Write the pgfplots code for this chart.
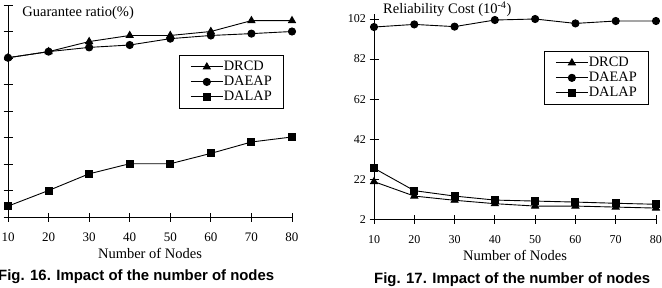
\documentclass[border=0pt]{standalone}
\usepackage{pgfplots}
\pgfplotsset{compat=1.18}
\usepackage{fontspec}
\setmainfont{Liberation Serif}
\newfontfamily\capfont{Liberation Sans}

\pgfplotsset{
  figstyle/.style={
    scale only axis,
    axis lines=left,
    axis line style={-, line width=0.9pt},
    tick align=center,
    major tick length=9pt,
    every tick/.style={black, line width=0.9pt},
    xmin=10, xmax=80,
    xtick={10,20,...,80},
    /pgf/number format/assume math mode=true,
    xlabel={Number of Nodes},
    xlabel style={font=\fontsize{14.5}{16}\selectfont, yshift=0pt},
    clip=false,
    every axis plot/.append style={black, line width=0.9pt, mark options={solid, fill=black}},
    legend cell align=left,
    legend style={draw=black, line width=0.8pt, font=\fontsize{14.4}{15}\selectfont,
      row sep=1pt, inner xsep=11pt, inner ysep=4.5pt,
      nodes={inner sep=0.5pt, text height=10pt, text depth=3pt},
      /tikz/every even column/.append style={column sep=0pt}},
    legend image code/.code={
      \draw[mark repeat=2, mark phase=2] plot coordinates {(0pt,0pt) (16pt,0pt) (32pt,0pt)};
    },
  },
}

\begin{document}
\begin{tikzpicture}
\useasboundingbox (0pt,0pt) rectangle (662pt,287pt);

% Guarantee ratio
\begin{axis}[figstyle,
  at={(8pt,70pt)}, anchor=origin,
  width=284pt, height=212pt,
  ymin=0, ymax=8, ytick={0,1,...,8}, yticklabels={},
  xticklabel style={font=\fontsize{13}{14}\selectfont, yshift=-8pt},
  legend style={at={(0.602,0.764)}, anchor=north west},
]
\addplot[mark=triangle*, mark size=4pt] coordinates {
  (10,6.01) (20,6.24) (30,6.62) (40,6.85) (50,6.85) (60,7.00) (70,7.41) (80,7.41)};
\addplot[mark=*, mark size=3.6pt] coordinates {
  (10,6.01) (20,6.24) (30,6.40) (40,6.49) (50,6.73) (60,6.85) (70,6.92) (80,7.00)};
\addplot[mark=square*, mark size=3.5pt] coordinates {
  (10,0.41) (20,1.00) (30,1.63) (40,2.01) (50,2.01) (60,2.40) (70,2.83) (80,3.02)};
\legend{DRCD, DAEAP, DALAP}
\node[anchor=west, inner sep=0pt, font=\fontsize{14.5}{16}\selectfont] at (rel axis cs:0.05,0.961) {Guarantee ratio(\%)};
\end{axis}

% Reliability cost
\begin{axis}[figstyle,
  at={(374pt,67.7pt)}, anchor=origin,
  width=282pt, height=205.3pt,
  ymin=2, ymax=104.5, ytick={2,22,42,62,82,102},
  xticklabel style={font=\fontsize{12}{13}\selectfont, yshift=-8pt},
  yticklabel style={font=\fontsize{12}{13}\selectfont},
  legend style={at={(0.603,0.82)}, anchor=north west},
]
\addplot[mark=triangle*, mark size=4pt] coordinates {
  (10,20.8) (20,13.6) (30,11.5) (40,9.8) (50,8.6) (60,8.6) (70,8.1) (80,7.6)};
\addplot[mark=*, mark size=3.6pt] coordinates {
  (10,98.0) (20,99.3) (30,98.2) (40,101.5) (50,102.0) (60,99.8) (70,101.0) (80,101.0)};
\addplot[mark=square*, mark size=3.5pt] coordinates {
  (10,27.5) (20,16.3) (30,13.6) (40,11.6) (50,11.1) (60,10.6) (70,10.0) (80,9.5)};
\legend{DRCD, DAEAP, DALAP}
\node[anchor=west, inner sep=0pt, font=\fontsize{14.5}{16}\selectfont] at (rel axis cs:0.032,1.025) {Reliability Cost (10\textsuperscript{-4})};
\end{axis}

% captions
\node[font=\capfont\bfseries\fontsize{14.9}{16}\selectfont, anchor=west, inner sep=0pt] at (-2pt,10pt) {Fig. 16. Impact of the number of nodes};
\node[font=\capfont\bfseries\fontsize{14.9}{16}\selectfont, anchor=west, inner sep=0pt] at (374pt,7pt) {Fig. 17. Impact of the number of nodes};
\end{tikzpicture}
\end{document}
